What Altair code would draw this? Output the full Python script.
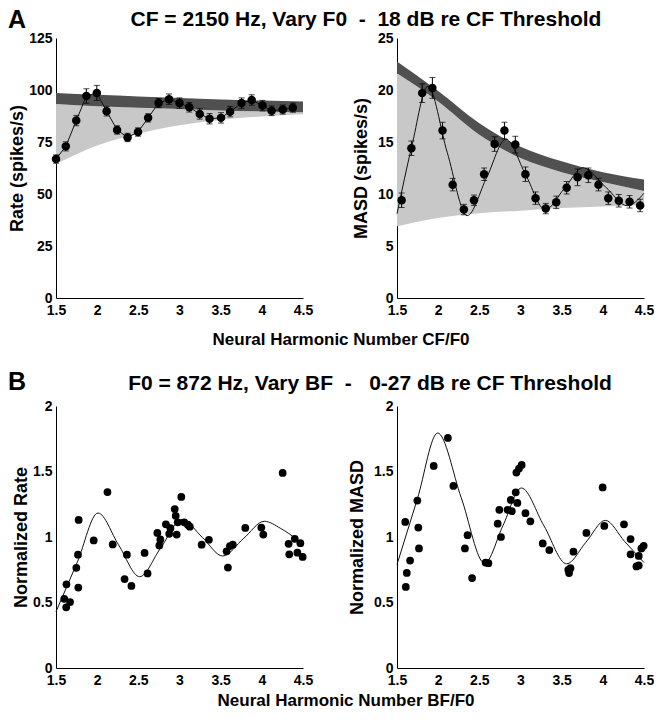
import altair as alt
import pandas as pd

FONT = "Liberation Sans"
DARK = "#505050"
LIGHT = "#c8c8c8"
X_TICKS = [1.5, 2, 2.5, 3, 3.5, 4, 4.5]

# ---------------- Panel A: CF = 2150 Hz, vary F0 ----------------
rate_x = [1.500, 1.619, 1.746, 1.869, 1.996, 2.115, 2.242, 2.369, 2.496, 2.619, 2.746, 2.873,
          3.000, 3.119, 3.246, 3.365, 3.504, 3.615, 3.754, 3.877, 4.008, 4.119, 4.254, 4.377]
rate_y = [66.8, 72.9, 85.3, 97.1, 98.6, 89.8, 80.8, 77.2, 79.8, 86.6, 93.7, 95.6,
          93.7, 91.7, 88.5, 86.2, 86.6, 89.6, 93.7, 95.2, 92.5, 90.0, 90.6, 91.5]
rate_err = [2.0, 2.2, 2.5, 3.5, 3.6, 2.3, 2.0, 2.0, 2.0, 2.0, 2.2, 2.5,
            2.5, 2.3, 2.5, 2.5, 2.5, 2.5, 2.5, 2.5, 2.5, 2.3, 2.2, 2.2]

masd_x = [1.556, 1.675, 1.806, 1.930, 2.053, 2.176, 2.312, 2.435, 2.558, 2.686, 2.805, 2.937,
          3.060, 3.183, 3.307, 3.434, 3.561, 3.693, 3.824, 3.947, 4.066, 4.194, 4.325, 4.453]
masd_y = [9.4, 14.4, 19.7, 20.2, 16.1, 10.9, 8.5, 9.4, 11.9, 14.8, 16.1, 14.75,
          11.9, 9.6, 8.6, 9.2, 10.6, 11.6, 11.8, 10.9, 9.6, 9.35, 9.25, 8.9]
masd_err = [0.7, 0.7, 0.9, 1.0, 0.8, 0.6, 0.5, 0.5, 0.6, 0.7, 0.8, 0.8,
            0.7, 0.6, 0.5, 0.6, 0.6, 0.8, 0.7, 0.6, 0.6, 0.6, 0.6, 0.6]

masd_fit_x = [1.5, 1.68, 1.875, 2.11, 2.352, 2.59, 2.823, 3.06, 3.30, 3.53, 3.759, 4.03, 4.297, 4.5]
masd_fit_y = [8.1, 14.6, 20.35, 14.0, 7.92, 11.6, 15.27, 11.9, 8.49, 10.5, 12.53, 10.7, 8.87, 10.07]

band_x = [1.5, 2.0, 2.5, 3.0, 3.5, 4.0, 4.5]
rate_dark_top = [98.6, 97.7, 96.9, 96.1, 95.4, 94.9, 94.5]
rate_dark_bot = [93.3, 92.2, 91.5, 90.9, 90.2, 89.7, 89.3]
rate_light_bot = [64.4, 73.3, 79.0, 83.0, 85.7, 87.3, 88.3]
masd_dark_top = [22.75, 19.9, 16.8, 14.55, 13.15, 12.1, 11.4]
masd_dark_bot = [21.6, 18.9, 15.7, 13.45, 12.1, 11.15, 10.3]
masd_light_bot = [6.9, 7.7, 8.15, 8.4, 8.65, 8.8, 8.95]

# ---------------- Panel B: F0 = 872 Hz, vary BF ----------------
b_rate_x = [1.600, 1.624, 1.627, 1.671, 1.747, 1.767, 1.771, 1.775, 1.958, 2.125, 2.189, 2.333,
            2.361, 2.416, 2.576, 2.612, 2.731, 2.755, 2.767, 2.835, 2.875, 2.890, 2.942, 2.954,
            2.966, 2.978, 3.022, 3.058, 3.102, 3.125, 3.269, 3.357, 3.572, 3.588, 3.612, 3.647,
            3.799, 3.994, 4.018, 4.253, 4.325, 4.333, 4.400, 4.432, 4.468, 4.496]
b_rate_y = [0.528, 0.463, 0.639, 0.503, 0.765, 0.865, 0.614, 1.130, 0.974, 1.343, 0.943, 0.679,
            0.865, 0.626, 0.878, 0.722, 1.031, 0.936, 0.981, 1.097, 1.024, 1.067, 1.213, 1.162,
            1.019, 1.112, 1.306, 1.112, 1.094, 1.079, 0.941, 0.979, 0.891, 0.767, 0.931, 0.941,
            1.069, 1.072, 1.019, 1.489, 0.948, 0.868, 0.986, 0.880, 0.953, 0.848]
b_rate_fit_x = [1.5, 1.76, 2.01, 2.26, 2.516, 2.77, 3.03, 3.28, 3.524, 3.78, 4.03, 4.23, 4.42]
b_rate_fit_y = [0.43, 0.81, 1.183, 0.94, 0.697, 0.915, 1.134, 0.995, 0.855, 0.99, 1.12, 1.065, 0.985]

b_masd_x = [1.600, 1.607, 1.619, 1.659, 1.747, 1.759, 1.767, 1.946, 2.118, 2.185, 2.325, 2.357,
            2.412, 2.576, 2.610, 2.723, 2.743, 2.763, 2.843, 2.882, 2.894, 2.942, 2.950, 2.962,
            2.982, 3.014, 3.060, 3.120, 3.270, 3.350, 3.580, 3.590, 3.607, 3.643, 3.800, 3.998,
            4.018, 4.257, 4.337, 4.337, 4.408, 4.436, 4.436, 4.468, 4.496]
b_masd_y = [1.115, 0.619, 0.726, 0.820, 1.278, 1.072, 0.913, 1.542, 1.756, 1.390, 0.913, 1.014,
            0.687, 0.805, 0.800, 1.102, 1.208, 1.000, 1.208, 1.283, 1.197, 1.341, 1.492, 1.260,
            1.522, 1.550, 1.182, 1.120, 0.951, 0.900, 0.750, 0.725, 0.762, 0.888, 1.031, 1.378,
            1.084, 1.097, 0.984, 0.868, 0.775, 0.783, 0.855, 0.913, 0.933]
b_masd_fit_x = [1.5, 1.747, 1.994, 2.28, 2.564, 2.787, 3.01, 3.285, 3.56, 3.795, 4.03, 4.265, 4.5]
b_masd_fit_y = [0.79, 1.29, 1.794, 1.30, 0.80, 1.087, 1.374, 1.085, 0.795, 0.96, 1.127, 0.966, 0.805]

W = 247
HA = 260
HB = 262
LBL = "datum.value + ''"


def x_enc():
    return alt.X("x:Q", scale=alt.Scale(domain=[1.5, 4.5], nice=False, zero=False),
                 axis=alt.Axis(values=X_TICKS, labelExpr=LBL, title=None, labelFlush=False,
                               labelPadding=5))


def make_y(domain, ticks, title, tp):
    def y(field):
        return alt.Y(f"{field}:Q", scale=alt.Scale(domain=domain, nice=False, zero=False),
                     axis=alt.Axis(values=ticks, labelExpr=LBL, title=title, titlePadding=tp,
                                   labelFlush=False, labelPadding=4))
    return y


def label(text, px, py, size, align="center"):
    return alt.Chart(pd.DataFrame({"t": [text]})).mark_text(
        font=FONT, fontSize=size, fontWeight="bold", align=align, baseline="alphabetic",
        color="black").encode(text="t:N", x=alt.value(px), y=alt.value(py))


def panel_a(x, yv, err, fit_x, fit_y, top, mid, bot, domain, ticks, title, tp, fit_interp):
    Y = make_y(domain, ticks, title, tp)
    pts = pd.DataFrame({"x": x, "y": yv,
                        "lo": [a - e for a, e in zip(yv, err)],
                        "hi": [a + e for a, e in zip(yv, err)]})
    bands = pd.DataFrame({"x": band_x, "top": top, "mid": mid, "bot": bot})
    fit = pd.DataFrame({"x": fit_x, "y": fit_y})
    light = alt.Chart(bands).mark_area(color=LIGHT, opacity=1, interpolate="monotone").encode(
        x=x_enc(), y=Y("bot"), y2="mid:Q")
    dark = alt.Chart(bands).mark_area(color=DARK, opacity=1, interpolate="monotone").encode(
        x=x_enc(), y=Y("mid"), y2="top:Q")
    line = alt.Chart(fit).mark_line(color="#111111", strokeWidth=1, interpolate=fit_interp).encode(
        x=x_enc(), y=Y("y"))
    bars = alt.Chart(pts).mark_rule(color="black", strokeWidth=1).encode(
        x=x_enc(), y=Y("lo"), y2="hi:Q")
    cap_lo = alt.Chart(pts).mark_tick(orient="horizontal", size=6, thickness=1, color="black").encode(
        x=x_enc(), y=Y("lo"))
    cap_hi = alt.Chart(pts).mark_tick(orient="horizontal", size=6, thickness=1, color="black").encode(
        x=x_enc(), y=Y("hi"))
    dots = alt.Chart(pts).mark_circle(size=72, color="black", opacity=1).encode(
        x=x_enc(), y=Y("y"))
    return [light, dark, line, bars, cap_lo, cap_hi, dots]


def panel_b(x, yv, fit_x, fit_y, title, tp):
    Y = make_y([0, 2], [0, 0.5, 1, 1.5, 2], title, tp)
    pts = pd.DataFrame({"x": x, "y": yv})
    fit = pd.DataFrame({"x": fit_x, "y": fit_y})
    line = alt.Chart(fit).mark_line(color="#111111", strokeWidth=1, interpolate="monotone").encode(
        x=x_enc(), y=Y("y"))
    dots = alt.Chart(pts).mark_circle(size=60, color="black", opacity=1).encode(
        x=x_enc(), y=Y("y"))
    return [line, dots]


title_a = "CF = 2150 Hz, Vary F0\u00a0\u00a0-\u00a0\u00a018 dB re CF Threshold"
title_b = "F0 = 872 Hz, Vary BF\u00a0\u00a0-\u00a0\u00a0\u00a00-27 dB re CF Threshold"

aL = alt.layer(
    *panel_a(rate_x, rate_y, rate_err, rate_x, rate_y, rate_dark_top, rate_dark_bot,
             rate_light_bot, [0, 125], [0, 25, 50, 75, 100, 125], "Rate (spikes/s)", 2, "linear"),
    label("A", -48, -10, 25, "left"),
    label(title_a, 310, -12, 21),
    label("Neural Harmonic Number CF/F0", 285, HA + 47, 17),
).properties(width=W, height=HA)

aR = alt.layer(
    *panel_a(masd_x, masd_y, masd_err, masd_fit_x, masd_fit_y, masd_dark_top, masd_dark_bot,
             masd_light_bot, [0, 25], [0, 5, 10, 15, 20, 25], "MASD (spikes/s)", 7, "monotone"),
).properties(width=W, height=HA)

bL = alt.layer(
    *panel_b(b_rate_x, b_rate_y, b_rate_fit_x, b_rate_fit_y, "Normalized Rate", 2),
    label("B", -48, -16, 25, "left"),
    label(title_b, 314, -16, 21),
    label("Neural Harmonic Number BF/F0", 290, HB + 38, 17),
).properties(width=W, height=HB)

bR = alt.layer(
    *panel_b(b_masd_x, b_masd_y, b_masd_fit_x, b_masd_fit_y, "Normalized MASD", 7),
).properties(width=W, height=HB)

chart = alt.concat(
    aL, aR, bL, bR, columns=2, spacing={"row": 108, "column": 94}, bounds="flush"
).properties(
    padding=0, background="white"
).configure_axis(
    labelFont=FONT, labelFontSize=14, labelFontWeight="bold", labelColor="black",
    titleFont=FONT, titleFontSize=18, titleFontWeight="bold", titleColor="black",
    domainColor="black", domainWidth=1, ticks=False, grid=False,
).configure_view(stroke=None)

chart.save("out.html", embed_options={"renderer": "svg", "actions": False})
